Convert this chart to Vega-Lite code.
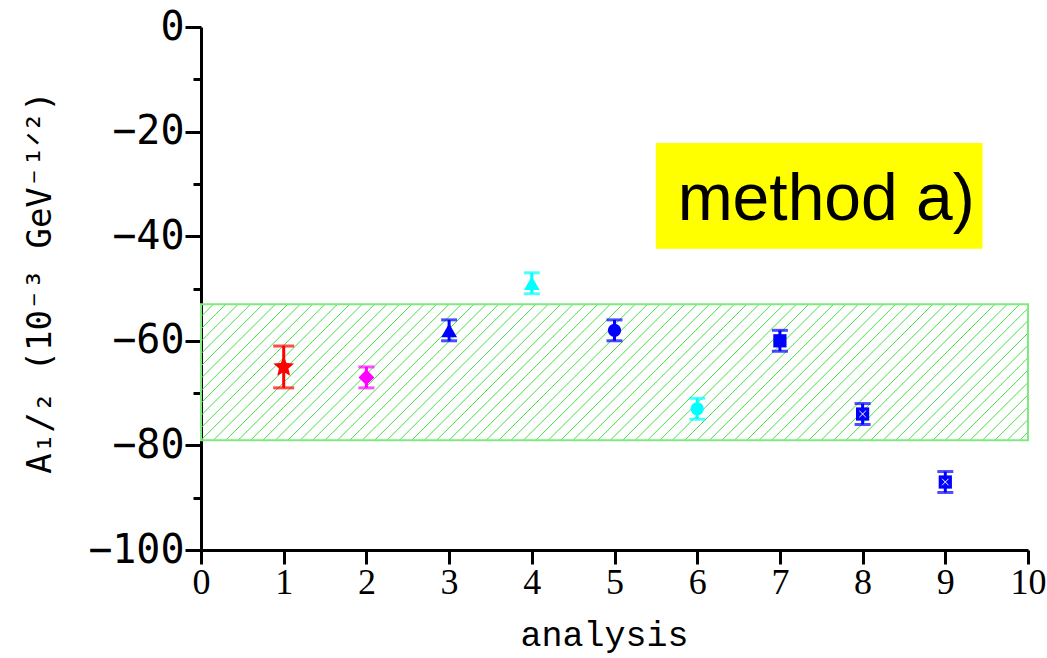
{
  "$schema": "https://vega.github.io/schema/vega-lite/v6.json",
  "width": 827,
  "height": 523,
  "autosize": "none",
  "padding": {"left": 201, "top": 27, "right": 19, "bottom": 108},
  "background": "white",
  "config": {"view": {"stroke": null}},
  "datasets": {
    "points": [
      {"analysis": 1, "A": -65, "lo": -69, "hi": -61},
      {"analysis": 2, "A": -67, "lo": -69, "hi": -65},
      {"analysis": 3, "A": -58, "lo": -60, "hi": -56},
      {"analysis": 4, "A": -49, "lo": -51, "hi": -47},
      {"analysis": 5, "A": -58, "lo": -60, "hi": -56},
      {"analysis": 6, "A": -73, "lo": -75, "hi": -71},
      {"analysis": 7, "A": -60, "lo": -62, "hi": -58},
      {"analysis": 8, "A": -74, "lo": -76, "hi": -72},
      {"analysis": 9, "A": -87, "lo": -89, "hi": -85}
    ],
    "band": [{"x0": 0, "x1": 10, "lo": -79, "hi": -53}],
    "hatch": [
      {"a": -1.65, "b": 0}, {"a": -1.5, "b": 0.15}, {"a": -1.35, "b": 0.3}, {"a": -1.2, "b": 0.45},
      {"a": -1.05, "b": 0.6}, {"a": -0.9, "b": 0.75}, {"a": -0.75, "b": 0.9}, {"a": -0.6, "b": 1.05},
      {"a": -0.45, "b": 1.2}, {"a": -0.3, "b": 1.35}, {"a": -0.15, "b": 1.5}, {"a": 0, "b": 1.65},
      {"a": 0.15, "b": 1.8}, {"a": 0.3, "b": 1.95}, {"a": 0.45, "b": 2.1}, {"a": 0.6, "b": 2.25},
      {"a": 0.75, "b": 2.4}, {"a": 0.9, "b": 2.55}, {"a": 1.05, "b": 2.7}, {"a": 1.2, "b": 2.85},
      {"a": 1.35, "b": 3}, {"a": 1.5, "b": 3.15}, {"a": 1.65, "b": 3.3}, {"a": 1.8, "b": 3.45},
      {"a": 1.95, "b": 3.6}, {"a": 2.1, "b": 3.75}, {"a": 2.25, "b": 3.9}, {"a": 2.4, "b": 4.05},
      {"a": 2.55, "b": 4.2}, {"a": 2.7, "b": 4.35}, {"a": 2.85, "b": 4.5}, {"a": 3, "b": 4.65},
      {"a": 3.15, "b": 4.8}, {"a": 3.3, "b": 4.95}, {"a": 3.45, "b": 5.1}, {"a": 3.6, "b": 5.25},
      {"a": 3.75, "b": 5.4}, {"a": 3.9, "b": 5.55}, {"a": 4.05, "b": 5.7}, {"a": 4.2, "b": 5.85},
      {"a": 4.35, "b": 6}, {"a": 4.5, "b": 6.15}, {"a": 4.65, "b": 6.3}, {"a": 4.8, "b": 6.45},
      {"a": 4.95, "b": 6.6}, {"a": 5.1, "b": 6.75}, {"a": 5.25, "b": 6.9}, {"a": 5.4, "b": 7.05},
      {"a": 5.55, "b": 7.2}, {"a": 5.7, "b": 7.35}, {"a": 5.85, "b": 7.5}, {"a": 6, "b": 7.65},
      {"a": 6.15, "b": 7.8}, {"a": 6.3, "b": 7.95}, {"a": 6.45, "b": 8.1}, {"a": 6.6, "b": 8.25},
      {"a": 6.75, "b": 8.4}, {"a": 6.9, "b": 8.55}, {"a": 7.05, "b": 8.7}, {"a": 7.2, "b": 8.85},
      {"a": 7.35, "b": 9}, {"a": 7.5, "b": 9.15}, {"a": 7.65, "b": 9.3}, {"a": 7.8, "b": 9.45},
      {"a": 7.95, "b": 9.6}, {"a": 8.1, "b": 9.75}, {"a": 8.25, "b": 9.9}, {"a": 8.4, "b": 10.05},
      {"a": 8.55, "b": 10.2}, {"a": 8.7, "b": 10.35}, {"a": 8.85, "b": 10.5}, {"a": 9, "b": 10.65},
      {"a": 9.15, "b": 10.8}, {"a": 9.3, "b": 10.95}, {"a": 9.45, "b": 11.1}, {"a": 9.6, "b": 11.25},
      {"a": 9.75, "b": 11.4}, {"a": 9.9, "b": 11.55}
    ],
    "label": [{"x0": 5.5, "x1": 9.45, "top": -22.2, "bottom": -42.4, "xt": 7.56, "yt": -36.9, "text": "method a)"}]
  },
  "resolve": {"axis": {"y": "independent"}},
  "layer": [
    {
      "data": {"name": "hatch"},
      "mark": {"type": "rule", "clip": true, "color": "#45de45", "strokeWidth": 1},
      "encoding": {
        "x": {
          "field": "a", "type": "quantitative",
          "scale": {"domain": [0, 10], "nice": false, "zero": false},
          "axis": {
            "values": [0, 1, 2, 3, 4, 5, 6, 7, 8, 9, 10],
            "format": "d",
            "title": "analysis",
            "orient": "bottom",
            "grid": false,
            "domainColor": "black", "domainWidth": 3,
            "tickColor": "black", "tickWidth": 3, "tickSize": 14,
            "labelFont": "Liberation Serif", "labelFontSize": 36, "labelColor": "black",
            "labelPadding": 1, "labelFlush": false,
            "titleFont": "Liberation Mono", "titleFontSize": 35, "titleFontWeight": "normal", "titleColor": "black",
            "titleX": 403, "titleY": 95, "titleBaseline": "alphabetic", "titleAlign": "center"
          }
        },
        "x2": {"field": "b"},
        "y": {
          "datum": -79, "type": "quantitative",
          "scale": {"domain": [-100, 0], "nice": false, "zero": false},
          "axis": {
            "values": [-100, -80, -60, -40, -20, 0],
            "title": "A₁/₂ (10⁻³ GeV⁻¹ᐟ²)",
            "orient": "left",
            "grid": false,
            "domainColor": "black", "domainWidth": 3,
            "tickColor": "black", "tickWidth": 3, "tickSize": 16,
            "labelFont": "DejaVu Sans Mono", "labelFontSize": 40, "labelColor": "black",
            "labelPadding": 1, "labelFlush": false,
            "titleFont": "DejaVu Sans Mono", "titleFontSize": 34, "titleFontWeight": "normal", "titleColor": "black",
            "titleX": -161, "titleY": 255, "titleAngle": -90, "titleAlign": "center", "titleBaseline": "middle"
          }
        },
        "y2": {"datum": -53}
      }
    },
    {
      "data": {"name": "band"},
      "mark": {"type": "rect", "fillOpacity": 0, "stroke": "#7fea7f", "strokeWidth": 2},
      "encoding": {
        "x": {"field": "x0", "type": "quantitative"},
        "x2": {"field": "x1"},
        "y": {
          "field": "lo", "type": "quantitative",
          "axis": {
            "values": [-90, -70, -50, -30, -10],
            "orient": "left", "title": null, "labels": false, "domain": false, "grid": false,
            "tickColor": "black", "tickWidth": 3, "tickSize": 8
          }
        },
        "y2": {"field": "hi"}
      }
    },
    {
      "data": {"name": "label"},
      "mark": {"type": "rect", "fill": "#ffff00"},
      "encoding": {
        "x": {"field": "x0", "type": "quantitative"},
        "x2": {"field": "x1"},
        "y": {"field": "top", "type": "quantitative", "axis": null},
        "y2": {"field": "bottom"}
      }
    },
    {
      "data": {"name": "label"},
      "mark": {"type": "text", "font": "Liberation Sans", "fontSize": 66, "color": "black", "align": "center", "baseline": "alphabetic"},
      "encoding": {
        "x": {"field": "xt", "type": "quantitative"},
        "y": {"field": "yt", "type": "quantitative", "axis": null},
        "text": {"field": "text"}
      }
    },
    {
      "data": {"name": "points"},
      "mark": {"type": "rule", "strokeWidth": 3},
      "encoding": {
        "x": {"field": "analysis", "type": "quantitative"},
        "y": {"field": "lo", "type": "quantitative", "axis": null},
        "y2": {"field": "hi"},
        "color": {
          "field": "analysis", "type": "nominal",
          "scale": {"domain": [1, 2, 3, 4, 5, 6, 7, 8, 9], "range": ["#ff0000", "#ff00ff", "#0000ff", "#00ffff", "#0000ff", "#00ffff", "#0000ff", "#0000ff", "#0000ff"]},
          "legend": null
        }
      }
    },
    {
      "data": {"name": "points"},
      "mark": {"type": "tick", "orient": "horizontal", "thickness": 3},
      "encoding": {
        "x": {"field": "analysis", "type": "quantitative"},
        "y": {"field": "lo", "type": "quantitative", "axis": null},
        "size": {"condition": {"test": "datum.analysis === 1", "value": 21}, "value": 16},
        "color": {"field": "analysis", "type": "nominal", "legend": null}
      }
    },
    {
      "data": {"name": "points"},
      "mark": {"type": "tick", "orient": "horizontal", "thickness": 3},
      "encoding": {
        "x": {"field": "analysis", "type": "quantitative"},
        "y": {"field": "hi", "type": "quantitative", "axis": null},
        "size": {"condition": {"test": "datum.analysis === 1", "value": 21}, "value": 16},
        "color": {"field": "analysis", "type": "nominal", "legend": null}
      }
    },
    {
      "data": {"name": "points"},
      "mark": {"type": "point", "filled": true, "opacity": 1},
      "encoding": {
        "x": {"field": "analysis", "type": "quantitative"},
        "y": {"field": "A", "type": "quantitative", "axis": null},
        "color": {"field": "analysis", "type": "nominal", "legend": null},
        "shape": {
          "field": "analysis", "type": "nominal",
          "scale": {
            "domain": [1, 2, 3, 4, 5, 6, 7, 8, 9],
            "range": [
              "M0,-1L0.265,-0.364L0.951,-0.309L0.428,0.139L0.588,0.809L0,0.45L-0.588,0.809L-0.428,0.139L-0.951,-0.309L-0.265,-0.364Z",
              "diamond", "triangle-up", "triangle-up", "circle", "circle", "square", "square", "square"
            ]
          },
          "legend": null
        },
        "size": {
          "condition": [
            {"test": "datum.analysis === 1", "value": 480},
            {"test": "datum.analysis <= 4", "value": 250}
          ],
          "value": 175
        }
      }
    },
    {
      "data": {"name": "points"},
      "transform": [{"filter": "datum.analysis >= 8"}],
      "mark": {"type": "point", "filled": false, "shape": "M-0.5,-0.5L0.5,0.5M0.5,-0.5L-0.5,0.5", "size": 170, "color": "white", "strokeWidth": 1, "opacity": 1},
      "encoding": {
        "x": {"field": "analysis", "type": "quantitative"},
        "y": {"field": "A", "type": "quantitative", "axis": null}
      }
    }
  ]
}
